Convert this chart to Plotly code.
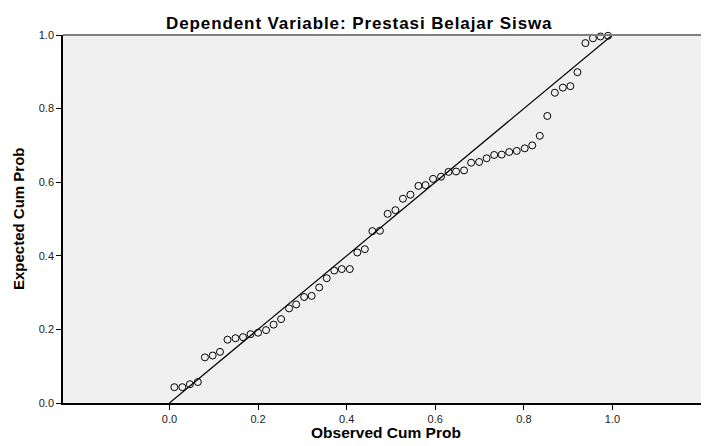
import plotly.graph_objects as go

# Observed and expected cumulative probabilities
observed_cum_prob = [
    0.011, 0.029, 0.046, 0.064, 0.080, 0.0975, 0.114, 0.131, 0.149, 0.166,
    0.183, 0.200, 0.218, 0.235, 0.252, 0.270, 0.286, 0.304, 0.321, 0.338,
    0.355, 0.372, 0.389, 0.407, 0.424, 0.441, 0.458, 0.475, 0.4925, 0.510,
    0.527, 0.544, 0.562, 0.578, 0.595, 0.613, 0.630, 0.647, 0.665, 0.681,
    0.699, 0.716, 0.733, 0.750, 0.767, 0.784, 0.802, 0.819, 0.836, 0.853,
    0.870, 0.888, 0.905, 0.921, 0.939, 0.956, 0.973, 0.990,
]
expected_cum_prob = [
    0.043, 0.043, 0.051, 0.057, 0.124, 0.129, 0.139, 0.172, 0.176, 0.179,
    0.187, 0.191, 0.198, 0.213, 0.228, 0.257, 0.268, 0.288, 0.291, 0.314,
    0.339, 0.360, 0.364, 0.364, 0.409, 0.418, 0.467, 0.468, 0.514, 0.524,
    0.555, 0.566, 0.590, 0.592, 0.609, 0.615, 0.628, 0.629, 0.632, 0.653,
    0.655, 0.665, 0.674, 0.675, 0.682, 0.685, 0.692, 0.700, 0.726, 0.780,
    0.843, 0.857, 0.861, 0.899, 0.978, 0.991, 0.996, 0.998,
]
reference_line_x = [0.0, 1.0]
reference_line_y = [0.0, 1.0]

tick_values = [0.0, 0.2, 0.4, 0.6, 0.8, 1.0]
tick_labels = ["0.0", "0.2", "0.4", "0.6", "0.8", "1.0"]

subtitle = "Dependent Variable: Prestasi Belajar Siswa"
x_title = "Observed Cum Prob"
y_title = "Expected Cum Prob"

FONT = "Liberation Sans, Arial, sans-serif"

# page body adds an 8px offset, so the figure is 8px smaller on each axis
W, H = 701, 438
ML, MT, MB = 55, 27, 43
plot_w = W - ML

fig = go.Figure()
fig.add_trace(go.Scatter(
    x=reference_line_x, y=reference_line_y, mode="lines",
    line=dict(color="black", width=1.2), hoverinfo="skip", showlegend=False,
))
fig.add_trace(go.Scatter(
    x=observed_cum_prob, y=expected_cum_prob, mode="markers",
    marker=dict(symbol="circle-open", size=7, color="black", line=dict(width=1)),
    cliponaxis=False, showlegend=False,
))

axis_common = dict(
    tickvals=tick_values, ticktext=tick_labels,
    showgrid=False, zeroline=False, showline=True, linecolor="black", linewidth=1.5,
    ticks="outside", ticklen=5, tickcolor="black", tickwidth=1,
    tickfont=dict(size=11, color="#222", family=FONT),
)

fig.update_layout(
    width=W, height=H,
    margin=dict(l=ML, r=0, t=MT, b=MB, autoexpand=False),
    paper_bgcolor="white",
    plot_bgcolor="#F0F0F0",
    font=dict(family=FONT, color="#222"),
    showlegend=False,
    xaxis=dict(range=[-0.2404, 1.218], **axis_common),
    yaxis=dict(range=[0, 1], **axis_common),
    shapes=[dict(type="line", xref="paper", yref="paper", x0=0, x1=1, y0=1, y1=1,
                 line=dict(color="#808080", width=2))],
    annotations=[
        dict(text='<span style="letter-spacing:0.9px"><b>' + subtitle + "</b></span>",
             xref="paper", yref="paper",
             x=(358.5 - 8 - ML) / plot_w, y=1, xanchor="center", yanchor="bottom", yshift=0,
             showarrow=False, font=dict(size=17, color="black", family=FONT)),
        dict(text="<b>" + x_title + "</b>", xref="paper", yref="paper",
             x=0.5, y=0, xanchor="center", yanchor="middle", yshift=-29,
             showarrow=False, font=dict(size=15.5, color="black", family=FONT)),
        dict(text="<b>" + y_title + "</b>", xref="paper", yref="paper",
             x=0, y=0.5, xanchor="center", yanchor="middle", xshift=-45, textangle=-90,
             showarrow=False, font=dict(size=15, color="black", family=FONT)),
    ],
)

fig.write_html("out.html")
